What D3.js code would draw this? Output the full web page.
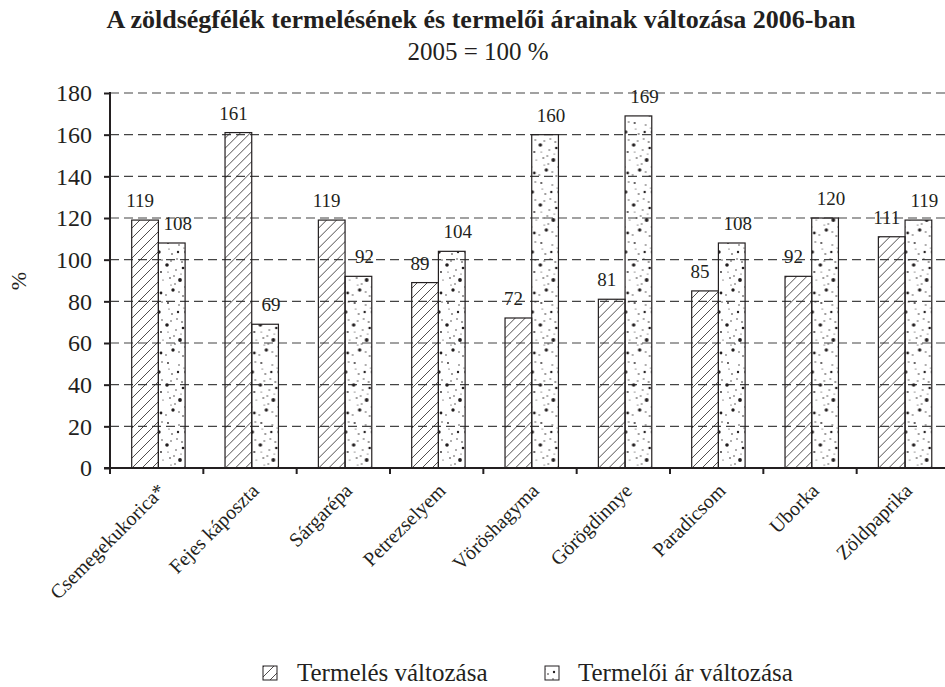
<!DOCTYPE html>
<html>
<head>
<meta charset="utf-8">
<script src="https://cdn.jsdelivr.net/npm/d3@7"></script>
<style>
  body { margin: 0; background: #fff; }
  svg, text { font-family: "Liberation Serif", "Times New Roman", serif; fill: #231f20; }
</style>
</head>
<body>
<svg width="945" height="687"></svg>
<script>
// chart values
var categories = ["Csemegekukorica*", "Fejes káposzta", "Sárgarépa", "Petrezselyem",
  "Vöröshagyma", "Görögdinnye", "Paradicsom", "Uborka", "Zöldpaprika"];
var termeles = [119, 161, 119, 89, 72, 81, 85, 92, 111];
var termeloiAr = [108, 69, 92, 104, 160, 169, 108, 120, 119];
var yTicks = [0, 20, 40, 60, 80, 100, 120, 140, 160, 180];
var seriesNames = ["Termelés változása", "Termelői ár változása"];

var ink = "#231f20";
var serif = "Liberation Serif, serif";
var svg = d3.select("svg");
var plotLeft = 110, plotRight = 950, plotTop = 93, plotBottom = 468;

var x = d3.scaleBand().domain(categories).range([plotLeft, plotRight]);
var y = d3.scaleLinear().domain([0, 180]).range([plotBottom, plotTop]);
var barW = 26.7, groupOff = 21.7;

// fill patterns
var defs = svg.append("defs");
var hatch = defs.append("pattern")
  .attr("id", "hatch").attr("patternUnits", "userSpaceOnUse")
  .attr("width", 10).attr("height", 10);
hatch.append("path").attr("d", "M-1,11 L11,-1 M-6,6 L6,-6 M4,16 L16,4")
  .attr("stroke", ink).attr("stroke-width", 0.8);

var dots = defs.append("pattern")
  .attr("id", "dots").attr("patternUnits", "userSpaceOnUse")
  .attr("width", 27).attr("height", 60);
var dotSpots = [[4,3,0.9],[15,5,0.7],[22,12,1.7],[8,14,0.8],[18,22,0.8],[3,25,1.8],
  [12,30,0.7],[24,32,0.9],[6,38,0.8],[16,40,1.9],[21,47,0.7],[9,50,1.7],
  [2,55,0.7],[19,56,0.8],[13,19,0.7],[25,2,0.7],[11,44,0.7],[5,9,0.6],
  [20,8,0.6],[14,12,1.2],[25,20,0.7],[7,21,0.7],[19,28,1.3],[4,32,0.6],
  [26,40,0.6],[10,36,0.7],[15,52,0.7],[24,53,1.4],[7,45,0.6],[17,34,0.6]];
dots.selectAll("circle").data(dotSpots).join("circle")
  .attr("cx", d => d[0]).attr("cy", d => d[1]).attr("r", d => d[2]).attr("fill", ink);

// title
svg.append("text").attr("x", 481).attr("y", 28).attr("text-anchor", "middle")
  .attr("font-family", serif).style("font-size", "26px").style("font-weight", "bold")
  .text("A zöldségfélék termelésének és termelői árainak változása 2006-ban");
svg.append("text").attr("x", 478).attr("y", 60).attr("text-anchor", "middle")
  .attr("font-family", serif).style("font-size", "25px").text("2005 = 100 %");

// grid
svg.append("g").selectAll("line").data(yTicks.filter(d => d > 0)).join("line")
  .attr("x1", plotLeft).attr("x2", plotRight).attr("y1", d => y(d)).attr("y2", d => y(d))
  .attr("stroke", "#444").attr("stroke-width", 1.1).attr("stroke-dasharray", "9,5");

// bars
var groups = svg.append("g").selectAll("g").data(categories).join("g")
  .attr("transform", d => "translate(" + x(d) + ",0)");
groups.append("rect")
  .attr("x", groupOff).attr("width", barW)
  .attr("y", (d, i) => y(termeles[i])).attr("height", (d, i) => y(0) - y(termeles[i]))
  .attr("fill", "url(#hatch)").attr("stroke", ink).attr("stroke-width", 1.2);
groups.append("rect")
  .attr("x", groupOff + barW).attr("width", barW)
  .attr("y", (d, i) => y(termeloiAr[i])).attr("height", (d, i) => y(0) - y(termeloiAr[i]))
  .attr("fill", "url(#dots)").attr("stroke", ink).attr("stroke-width", 1.2);

// value labels
groups.append("text").attr("text-anchor", "middle").style("font-size", "19px")
  .attr("x", groupOff + barW / 2 - 5).attr("y", (d, i) => y(termeles[i]) - 13)
  .text((d, i) => termeles[i]);
groups.append("text").attr("text-anchor", "middle").style("font-size", "19px")
  .attr("x", groupOff + barW * 1.5 + 6).attr("y", (d, i) => y(termeloiAr[i]) - 13)
  .text((d, i) => termeloiAr[i]);

// y axis
var yAxis = svg.append("g").attr("transform", "translate(" + plotLeft + ",0)")
  .call(d3.axisLeft(y).tickValues(yTicks).tickSize(6).tickPadding(12))
  .attr("font-family", serif);
yAxis.select(".domain").attr("stroke", ink).attr("stroke-width", 2)
  .attr("d", "M0," + (plotTop - 1) + "V" + (plotBottom + 1));
yAxis.selectAll(".tick line").attr("stroke", ink).attr("stroke-width", 2);
yAxis.selectAll(".tick text").style("font-size", "24px").attr("fill", ink);

// x axis
svg.append("line").attr("x1", plotLeft - 6).attr("x2", plotRight).attr("y1", plotBottom).attr("y2", plotBottom)
  .attr("stroke", ink).attr("stroke-width", 2);
svg.append("g").selectAll("line").data(categories).join("line")
  .attr("x1", d => x(d)).attr("x2", d => x(d)).attr("y1", plotBottom).attr("y2", plotBottom + 6)
  .attr("stroke", ink).attr("stroke-width", 2);
svg.append("g").selectAll("text").data(categories).join("text")
  .attr("text-anchor", "end").style("font-size", "20px")
  .attr("transform", d => "translate(" + (x(d) + x.bandwidth() / 2 + 10) + "," + (plotBottom + 24) + ") rotate(-45)")
  .text(d => d);

// y label
svg.append("text").attr("transform", "translate(26,281) rotate(-90)")
  .attr("text-anchor", "middle").style("font-size", "22px").text("%");

// legend
var legendX = [263, 545], legendT = [297, 578];
var lg = svg.append("g").selectAll("g").data(seriesNames).join("g");
lg.append("rect").attr("x", (d, i) => legendX[i]).attr("y", 666).attr("width", 14).attr("height", 14)
  .attr("fill", (d, i) => i ? "url(#dots)" : "url(#hatch)").attr("stroke", ink).attr("stroke-width", 1);
lg.append("text").attr("x", (d, i) => legendT[i]).attr("y", 681).style("font-size", "25px").text(d => d);
</script>
</body>
</html>
